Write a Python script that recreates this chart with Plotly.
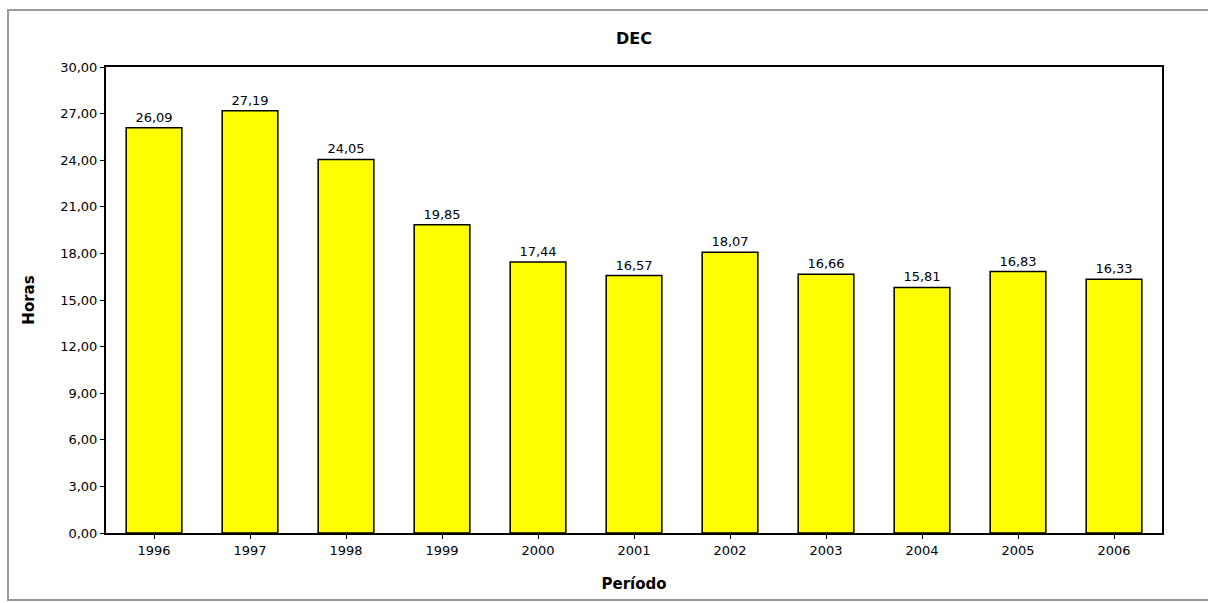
import plotly.graph_objects as go

periods = ["1996", "1997", "1998", "1999", "2000", "2001", "2002", "2003", "2004", "2005", "2006"]
dec_hours = [26.09, 27.19, 24.05, 19.85, 17.44, 16.57, 18.07, 16.66, 15.81, 16.83, 16.33]
y_ticks = [0, 3, 6, 9, 12, 15, 18, 21, 24, 27, 30]

W, H = 1208, 603
ml, mr, mt, mb = 106, 46, 67, 70

fig = go.Figure()
fig.add_trace(go.Bar(
    x=periods, y=dec_hours,
    marker=dict(color="#ffff00", line=dict(color="#000000", width=1.5)),
    texttemplate="%{y:.2f}", textposition="outside",
    textfont=dict(family="DejaVu Sans", size=13, color="#000000"),
    cliponaxis=False,
))

fig.update_layout(
    width=W, height=H,
    margin=dict(l=ml, r=mr, t=mt, b=mb),
    paper_bgcolor="white", plot_bgcolor="white",
    separators=",.",
    bargap=0.42,
    showlegend=False,
    title=dict(text="<b>DEC</b>", x=0.5, xref="paper", y=1 - 38 / H, yanchor="middle",
               font=dict(family="DejaVu Sans", size=16, color="#000000")),
    font=dict(family="DejaVu Sans", size=13, color="#000000"),
)
fig.update_xaxes(
    title=dict(text="<b>Período</b>", font=dict(size=15), standoff=22),
    showline=True, linecolor="#000000", linewidth=2, mirror=True,
    ticks="outside", ticklen=4, tickcolor="#000000",
    tickfont=dict(size=13), showgrid=False,
)
fig.update_yaxes(
    title=dict(text="<b>Horas</b>", font=dict(size=15), standoff=22),
    range=[0, 30], tickvals=y_ticks, tickformat=".2f",
    showline=True, linecolor="#000000", linewidth=2, mirror=True,
    ticks="outside", ticklen=4, tickcolor="#000000",
    tickfont=dict(size=13), showgrid=False, zeroline=False,
)

# outer gray frame of the image
pw = W - ml - mr
ph = H - mt - mb
x0 = (8 - ml) / pw
x1 = (W + 5 - ml) / pw
y1 = (H - 10 - mb) / ph
y0 = (H - 600 - mb) / ph
fig.add_shape(type="rect", xref="paper", yref="paper", x0=x0, x1=x1, y0=y0, y1=y1,
              line=dict(color="#999999", width=2), layer="below")

fig.write_html("out.html")
